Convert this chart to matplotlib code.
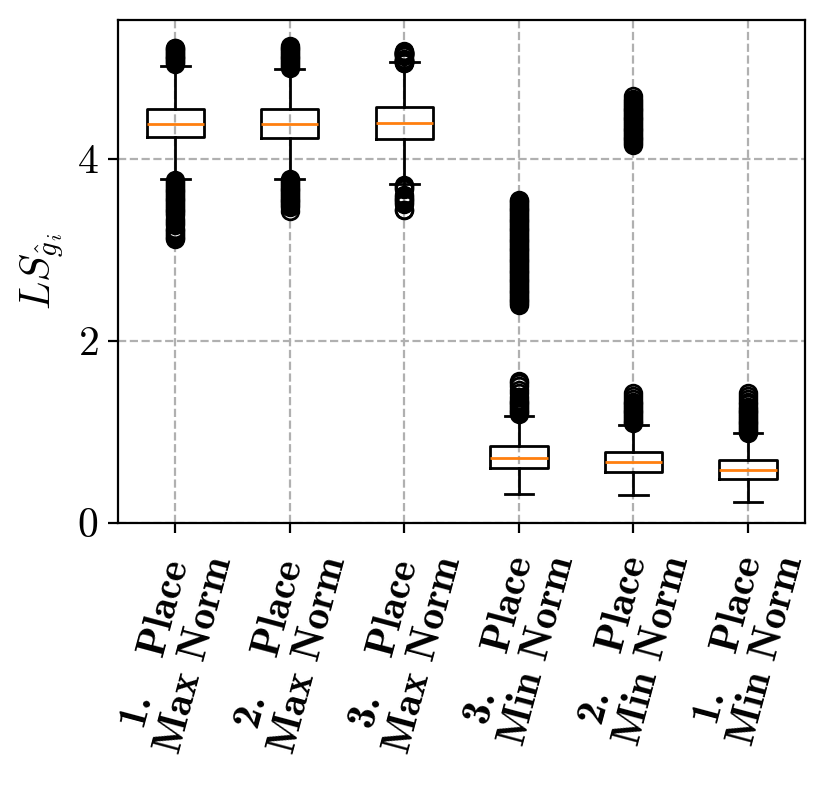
import matplotlib
matplotlib.use("Agg")
import matplotlib.pyplot as plt

plt.rcParams['font.family'] = 'serif'
plt.rcParams['font.serif'] = ['cmr10']
plt.rcParams['mathtext.fontset'] = 'cm'
plt.rcParams['axes.formatter.use_mathtext'] = True
plt.rcParams['font.size'] = 15

# labels
places = ["1.", "2.", "3.", "3.", "2.", "1."]
norms = ["Max", "Max", "Max", "Min", "Min", "Min"]

# box statistics
med = [4.38, 4.385, 4.39, 0.71, 0.665, 0.577]
q1 = [4.234, 4.23, 4.21, 0.60, 0.56, 0.475]
q3 = [4.546, 4.54, 4.57, 0.84, 0.78, 0.687]
whislo = [3.77, 3.78, 3.72, 0.318, 0.307, 0.226]
whishi = [5.015, 4.98, 5.06, 1.17, 1.078, 0.98]

# outliers
fliers_1 = [5.04, 5.06, 5.07, 5.09, 5.10, 5.12, 5.13, 5.15, 5.16, 5.18, 5.19, 5.21, 5.22,
            3.76, 3.74, 3.72, 3.70, 3.68, 3.66, 3.64, 3.62, 3.60, 3.58, 3.56, 3.54, 3.52,
            3.50, 3.48, 3.46, 3.44, 3.42, 3.40, 3.38, 3.34, 3.31, 3.29, 3.27, 3.23, 3.21,
            3.19, 3.17, 3.15, 3.13, 3.12]
fliers_2 = [5.00, 5.02, 5.04, 5.06, 5.08, 5.10, 5.12, 5.14, 5.16, 5.18, 5.20, 5.22, 5.235,
            3.77, 3.75, 3.73, 3.71, 3.69, 3.67, 3.65, 3.63, 3.61, 3.59, 3.57, 3.55, 3.53,
            3.51, 3.49, 3.47, 3.42]
fliers_3 = [5.05, 5.055, 5.06, 5.065, 5.07, 5.075, 5.08, 5.085, 5.09,
            5.13, 5.135, 5.14, 5.145, 5.15, 5.155, 5.16, 5.165, 5.17, 5.175, 5.18,
            3.71, 3.70, 3.68, 3.67, 3.60, 3.58, 3.56, 3.54, 3.52, 3.50, 3.44, 3.43]
fliers_4 = [1.19, 1.21, 1.23, 1.25, 1.27, 1.29, 1.31, 1.33, 1.35, 1.38, 1.42, 1.46, 1.50,
            1.53, 1.56,
            2.39, 2.41, 2.43, 2.45, 2.47, 2.49, 2.51, 2.53, 2.55, 2.57, 2.59, 2.61, 2.63,
            2.65, 2.67, 2.69, 2.71, 2.73, 2.75, 2.77, 2.79, 2.81, 2.83, 2.85, 2.87, 2.89,
            2.91, 2.93, 2.95, 2.97, 2.99, 3.01, 3.03, 3.05, 3.07, 3.09, 3.11, 3.13, 3.15,
            3.17, 3.19, 3.21, 3.23, 3.25, 3.27, 3.29, 3.31, 3.33, 3.35, 3.37, 3.39, 3.41,
            3.43, 3.45, 3.47, 3.49, 3.51, 3.53, 3.55]
fliers_5 = [1.09, 1.11, 1.13, 1.15, 1.17, 1.19, 1.21, 1.23, 1.25, 1.27, 1.29, 1.31, 1.33,
            1.36, 1.39, 1.42,
            4.15, 4.17, 4.19, 4.21, 4.23, 4.25, 4.27, 4.29, 4.31, 4.33, 4.35, 4.37, 4.39,
            4.41, 4.43, 4.45, 4.47, 4.49, 4.51, 4.53, 4.55, 4.57, 4.59, 4.61, 4.63, 4.65,
            4.69]
fliers_6 = [0.99, 1.01, 1.03, 1.05, 1.07, 1.09, 1.11, 1.13, 1.15, 1.17, 1.19, 1.21, 1.23,
            1.25, 1.27, 1.30, 1.33, 1.36, 1.39, 1.42]
fliers = [fliers_1, fliers_2, fliers_3, fliers_4, fliers_5, fliers_6]

stats = []
for i in range(6):
    stats.append(dict(med=med[i], q1=q1[i], q3=q3[i], whislo=whislo[i],
                      whishi=whishi[i], fliers=fliers[i]))

fig, ax = plt.subplots(figsize=(4.155, 4.045), dpi=200)
fig.subplots_adjust(left=0.142, right=0.969, top=0.975, bottom=0.354)

ax.bxp(stats, showfliers=True)
ax.set_ylim(0, 5.52)
ax.set_yticks([0, 2, 4])
ax.grid(True, linestyle='--')
ax.set_axisbelow(True)

labels = []
for p, n in zip(places, norms):
    labels.append(p + "   Place\n" + n + " Norm")
ax.set_xticklabels(labels, rotation=75, ha='center', fontfamily='cmb10',
                   linespacing=1.1)
ax.set_ylabel(r"$LS_{\hat{g}_i}$")

plt.savefig("out.png", dpi=200)
